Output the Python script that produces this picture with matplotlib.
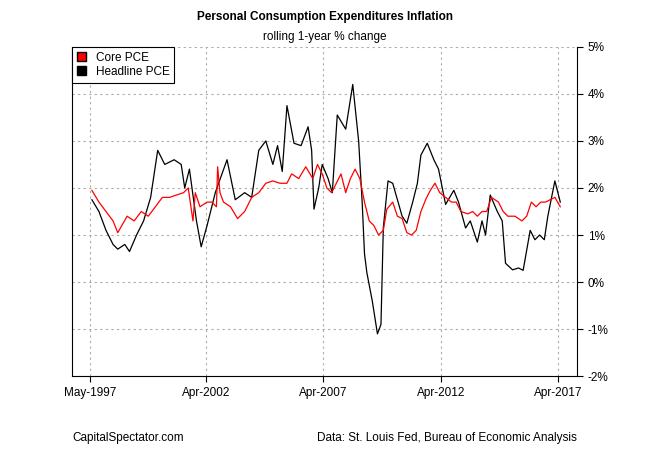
import matplotlib
matplotlib.use("Agg")
import matplotlib.pyplot as plt
from matplotlib.patches import Patch

head_t = [1997.4,1997.7,1998.0,1998.3,1998.5,1998.8,1999.0,1999.3,1999.6,1999.9,2000.2,2000.5,2000.9,2001.2,2001.35,2001.55,2001.85,2002.05,2002.3,2002.65,2003.15,2003.5,2003.9,2004.2,2004.5,2004.8,2005.1,2005.3,2005.5,2005.7,2006.0,2006.3,2006.6,2006.75,2006.85,2007.05,2007.2,2007.45,2007.63,2007.84,2008.2,2008.5,2008.75,2008.9,2009.0,2009.1,2009.33,2009.55,2009.7,2009.8,2010.0,2010.2,2010.4,2010.6,2010.8,2011.05,2011.25,2011.4,2011.67,2011.95,2012.15,2012.45,2012.8,2013.0,2013.3,2013.5,2013.8,2014.0,2014.15,2014.35,2014.65,2014.86,2015.0,2015.3,2015.55,2015.75,2016.05,2016.25,2016.45,2016.65,2016.8,2017.0,2017.1,2017.33]
head_v = [1.75,1.5,1.1,0.8,0.7,0.8,0.65,1.0,1.3,1.8,2.8,2.5,2.6,2.5,2.0,2.4,1.3,0.75,1.2,1.9,2.6,1.75,1.9,1.8,2.8,3.0,2.5,2.9,2.35,3.75,2.95,2.9,3.3,2.8,1.55,2.0,2.5,2.2,1.9,3.55,3.25,4.2,3.0,1.7,0.6,0.2,-0.4,-1.1,-0.9,1.15,2.15,2.1,1.75,1.4,1.25,1.7,2.1,2.7,2.95,2.6,2.4,1.65,1.95,1.7,1.15,1.3,0.85,1.3,1.0,1.85,1.5,1.3,0.4,0.26,0.3,0.25,1.1,0.9,1.0,0.9,1.4,1.9,2.15,1.7]

core_t = [1997.4,1997.7,1998.0,1998.3,1998.5,1998.9,1999.2,1999.5,1999.8,2000.1,2000.4,2000.7,2001.0,2001.3,2001.5,2001.7,2001.8,2002.0,2002.3,2002.5,2002.7,2002.75,2002.85,2003.0,2003.3,2003.6,2003.9,2004.2,2004.5,2004.8,2005.1,2005.4,2005.7,2005.9,2006.2,2006.5,2006.8,2007.0,2007.2,2007.4,2007.6,2007.8,2008.0,2008.2,2008.4,2008.6,2008.8,2009.0,2009.2,2009.4,2009.6,2009.8,2009.95,2010.2,2010.4,2010.6,2010.8,2011.0,2011.2,2011.4,2011.6,2011.8,2012.0,2012.2,2012.45,2012.7,2012.9,2013.1,2013.4,2013.6,2013.8,2014.0,2014.2,2014.4,2014.7,2014.9,2015.1,2015.4,2015.7,2015.9,2016.1,2016.3,2016.5,2016.7,2016.9,2017.1,2017.33]
core_v = [1.95,1.7,1.5,1.3,1.05,1.4,1.3,1.5,1.4,1.6,1.8,1.8,1.85,1.9,2.0,1.3,1.9,1.6,1.7,1.7,1.6,2.45,1.9,1.7,1.6,1.35,1.5,1.8,1.9,2.1,2.15,2.1,2.1,2.3,2.2,2.45,2.2,2.5,2.3,2.0,1.9,2.1,2.3,1.9,2.2,2.4,2.2,1.7,1.3,1.2,1.0,1.1,1.55,1.7,1.4,1.35,1.05,1.0,1.1,1.5,1.75,1.95,2.1,1.9,1.8,1.7,1.7,1.5,1.45,1.5,1.4,1.5,1.5,1.8,1.7,1.5,1.4,1.4,1.3,1.4,1.7,1.6,1.7,1.7,1.75,1.8,1.6]

tick_pos = [1997.33, 2002.25, 2007.25, 2012.25, 2017.25]
tick_lab = ["May-1997", "Apr-2002", "Apr-2007", "Apr-2012", "Apr-2017"]
y_ticks = list(range(-2, 6))

plt.rcParams['font.family'] = ['Liberation Sans', 'DejaVu Sans']
fig = plt.figure(figsize=(6.5, 4.5), dpi=100)
ax = fig.add_axes([0.111, 0.164, 0.777, 0.732])
ax.plot(head_t, head_v, color='black', lw=0.9)
ax.plot(core_t, core_v, color='red', lw=0.9)
ax.set_xlim(1996.56, 2018.05)
ax.set_ylim(-2, 5)
ax.set_xticks(tick_pos)
ax.set_xticklabels(tick_lab, fontsize=8.5)
ax.set_yticks(y_ticks)
ax.set_yticklabels([f"{v}%" for v in y_ticks], fontsize=8.5)
ax.yaxis.tick_right()
ax.grid(True, color='#aaaaaa', linestyle=(0, (2, 3)), lw=0.8)
ax.spines['top'].set_visible(False)
ax.tick_params(length=4, width=0.8)
leg = ax.legend(handles=[Patch(facecolor='red', edgecolor='black', label='Core PCE'),
                         Patch(facecolor='black', edgecolor='black', label='Headline PCE')],
                loc='upper left', bbox_to_anchor=(0, 1.0), fontsize=8.5, fancybox=False,
                edgecolor='black', framealpha=1, handlelength=0.8, handleheight=0.8,
                borderpad=0.4, labelspacing=0.2, borderaxespad=0)
leg.get_frame().set_linewidth(0.8)
fig.text(0.5, 0.962, "Personal Consumption Expenditures Inflation", ha='center', va='center', fontsize=8.5, fontweight='bold')
fig.text(0.5, 0.918, "rolling 1-year % change", ha='center', va='center', fontsize=8.5)
fig.text(0.111, 0.027, "CapitalSpectator.com", ha='left', va='center', fontsize=8.5)
fig.text(0.888, 0.027, "Data: St. Louis Fed, Bureau of Economic Analysis", ha='right', va='center', fontsize=8.5)
fig.savefig("out.png", dpi=100)
